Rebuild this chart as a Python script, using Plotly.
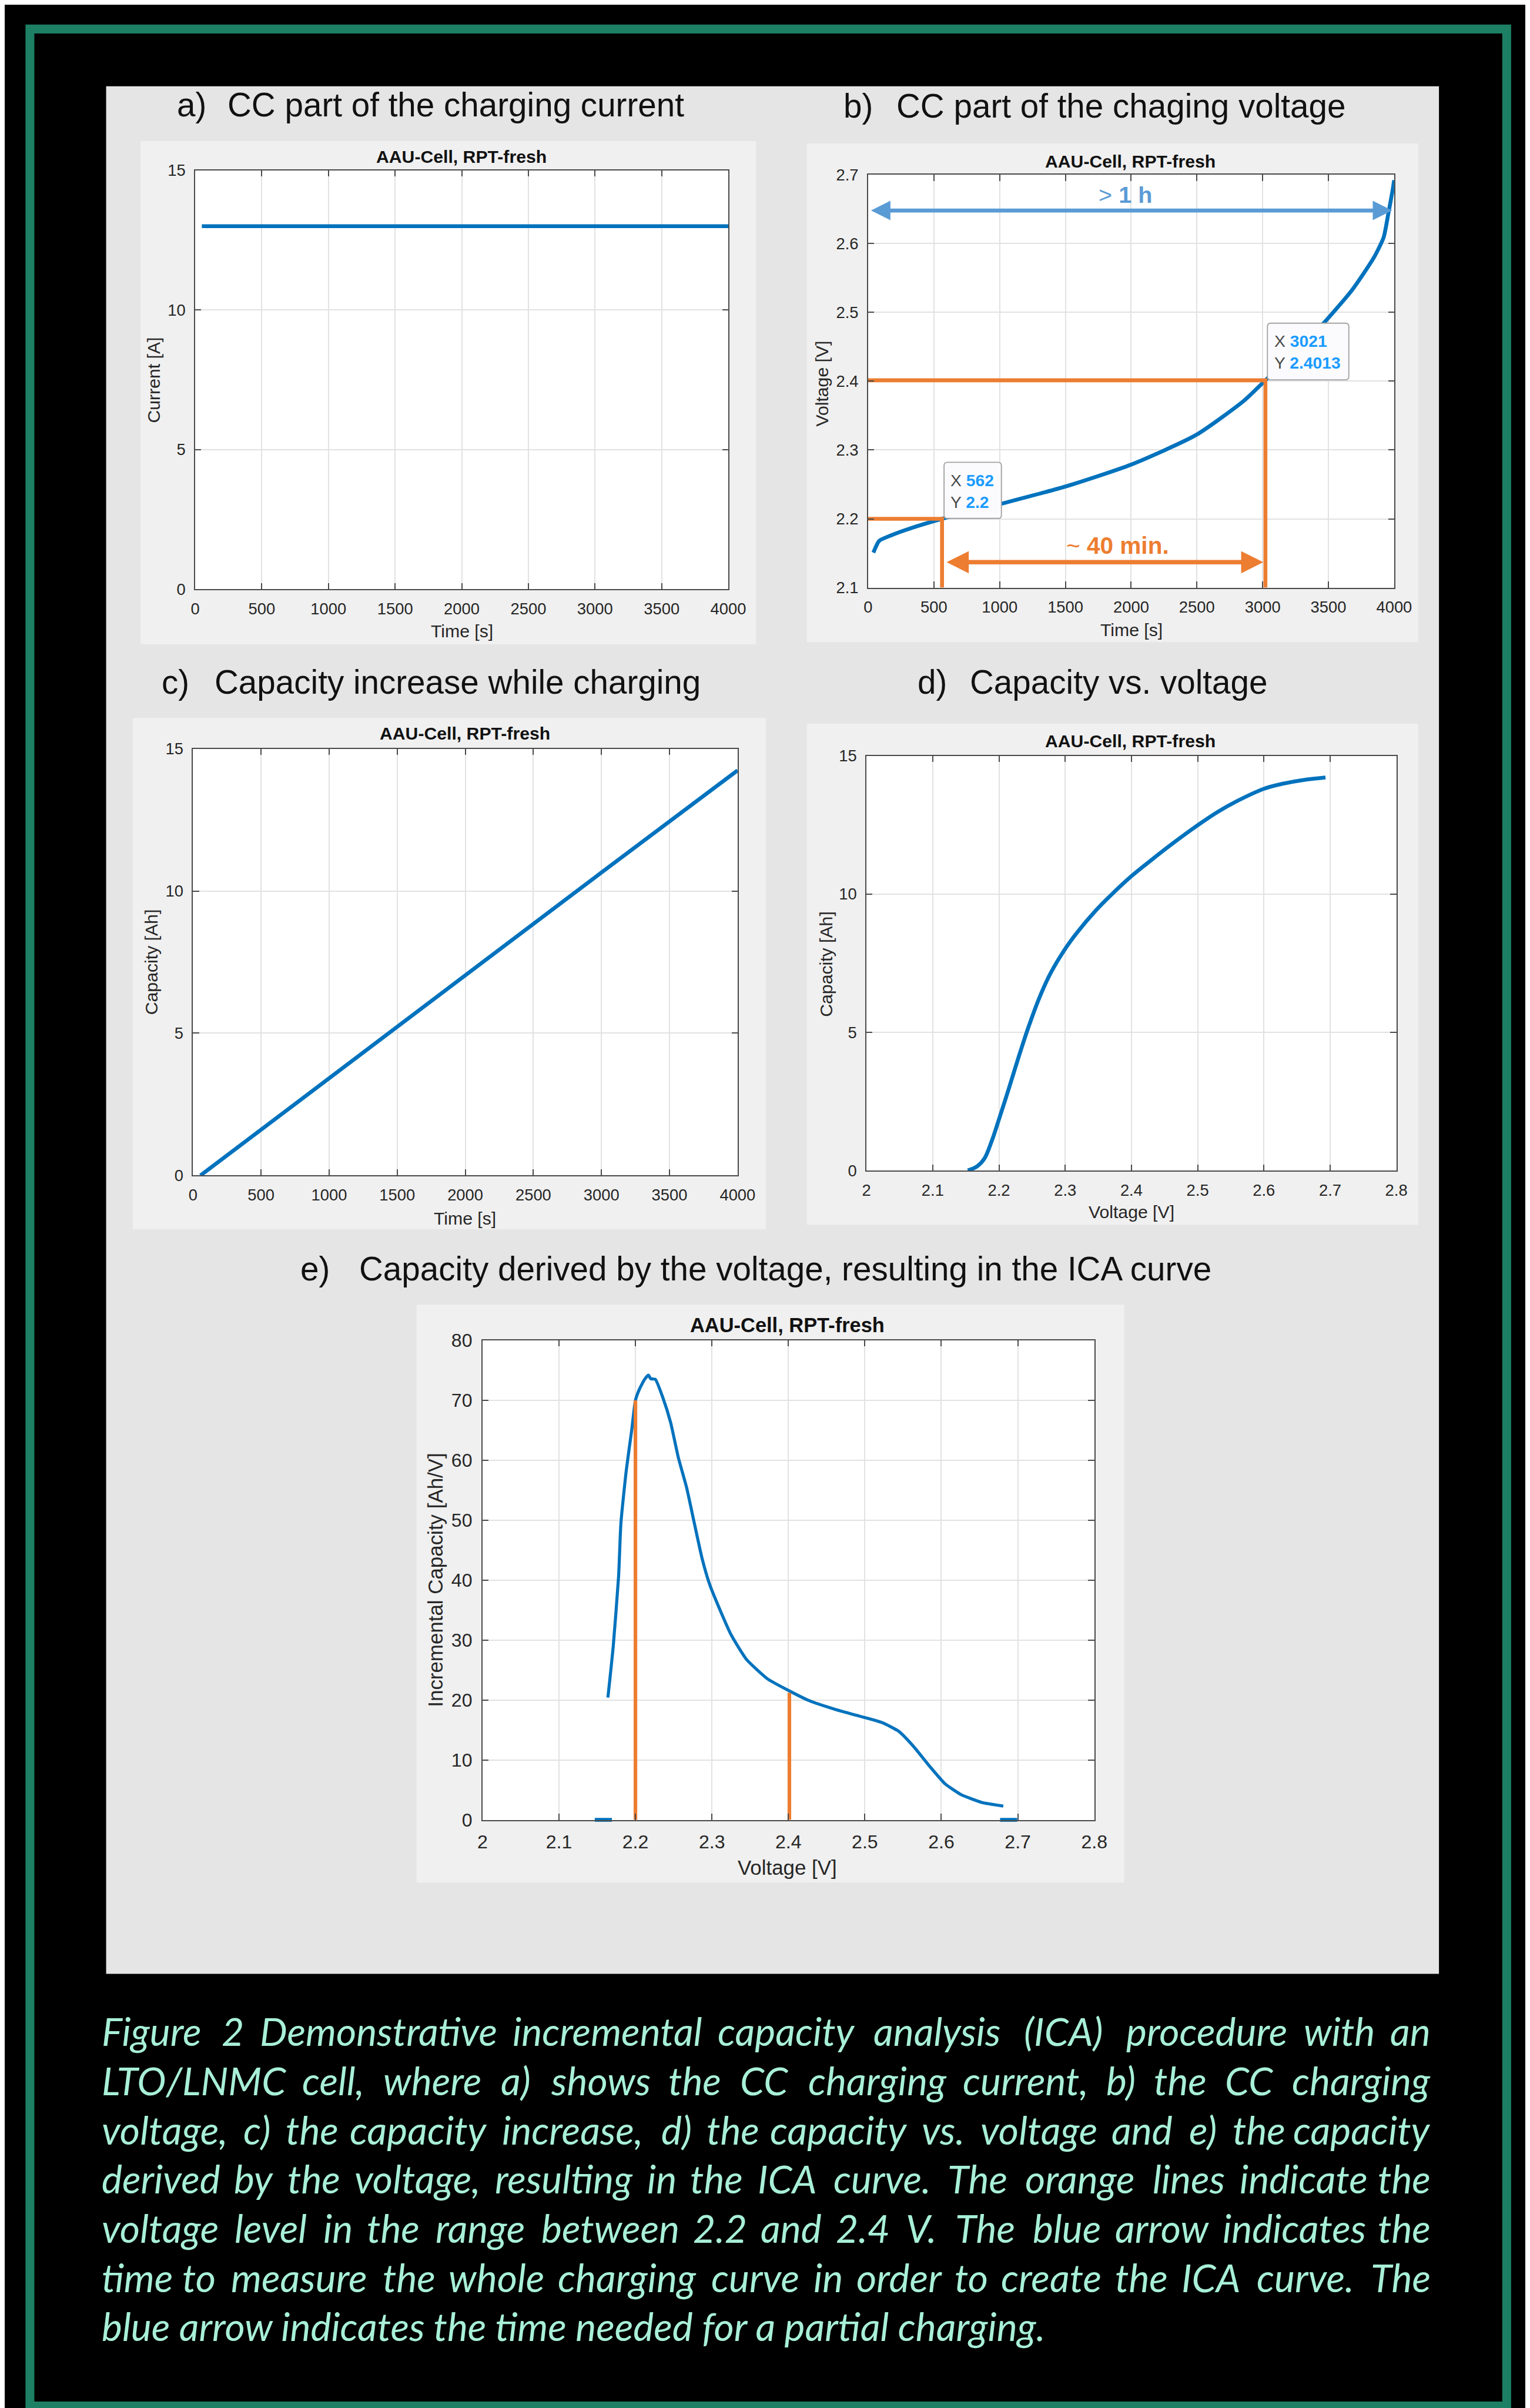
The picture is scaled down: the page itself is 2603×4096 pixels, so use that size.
import plotly.graph_objects as go

W, H = 2603, 4096
RW, RH = 2759, 4341
S = W / RW


def px(x):
    return x / RW


def py(y):
    return 1 - y / RH


BLUE = '#0072BD'
ORANGE = '#ED7D31'
LBLUE = '#5B9BD5'
TIPBLUE = '#1a9bff'
FONT = 'Liberation Sans, Arial, sans-serif'
CAPFONT = 'Lato, Noto Sans, sans-serif'
TXT = '#262626'

# ---------------- data ----------------
a_time = [50, 1000, 2000, 3000, 4000]
a_current = [13.0, 13.0, 13.0, 13.0, 13.0]

b_time = [40, 84, 175, 303, 562, 1034, 1501, 2002, 2495, 2860, 3021, 3226, 3481, 3682, 3847, 3920, 3956, 3985, 4000]
b_voltage = [2.151, 2.168, 2.176, 2.185, 2.200, 2.223, 2.247, 2.279, 2.322, 2.372, 2.4013, 2.438, 2.488, 2.533,
             2.580, 2.609, 2.644, 2.674, 2.692]
b_mark_time = [562, 3021]
b_mark_voltage = [2.2, 2.4013]
b_long_arrow_time = [15, 3985]
b_long_arrow_voltage = 2.648
b_short_arrow_time = [590, 3005]
b_short_arrow_voltage = 2.137

c_time = [55, 1000, 2000, 3000, 4000]
c_capacity = [0.0, 3.42, 7.05, 10.65, 14.24]

d_voltage = [2.153, 2.167, 2.178, 2.189, 2.200, 2.215, 2.229, 2.244, 2.261, 2.278, 2.300, 2.318, 2.346, 2.369,
             2.400, 2.431, 2.460, 2.500, 2.530, 2.559, 2.600, 2.630, 2.660, 2.693]
d_capacity = [0.00, 0.15, 0.43, 1.06, 1.85, 2.97, 4.05, 5.15, 6.25, 7.14, 8.02, 8.61, 9.40, 9.96,
              10.65, 11.25, 11.79, 12.49, 12.97, 13.36, 13.81, 14.00, 14.13, 14.22]

e_voltage = [2.164, 2.171, 2.178, 2.181, 2.188, 2.195, 2.200, 2.205, 2.212, 2.217, 2.220, 2.226, 2.236, 2.246,
             2.256, 2.267, 2.277, 2.287, 2.297, 2.311, 2.325, 2.345, 2.373, 2.400, 2.427, 2.462, 2.499, 2.523,
             2.544, 2.564, 2.585, 2.605, 2.626, 2.653, 2.681]
e_ic = [20.4, 29.0, 40.7, 49.5, 58.3, 64.9, 70.0, 71.8, 73.5, 74.2, 73.6, 73.5, 70.4, 66.3, 60.5, 55.4, 49.5,
        43.7, 39.3, 34.9, 30.9, 26.8, 23.5, 21.6, 19.9, 18.4, 17.1, 16.2, 14.8, 12.2, 8.9, 6.0, 4.2, 2.9, 2.3]
e_mark_voltage = [2.2, 2.4013]
e_mark_ic = [70.0, 21.2]
e_zero_voltage = [2.158, 2.688]

time_ticks = [0, 500, 1000, 1500, 2000, 2500, 3000, 3500, 4000]
time_labels = ['0', '500', '1000', '1500', '2000', '2500', '3000', '3500', '4000']
amp_ticks = [0, 5, 10, 15]
amp_labels = ['0', '5', '10', '15']
vb_ticks = [2.1, 2.2, 2.3, 2.4, 2.5, 2.6, 2.7]
vb_labels = ['2.1', '2.2', '2.3', '2.4', '2.5', '2.6', '2.7']
v_ticks = [2.0, 2.1, 2.2, 2.3, 2.4, 2.5, 2.6, 2.7, 2.8]
v_labels = ['2', '2.1', '2.2', '2.3', '2.4', '2.5', '2.6', '2.7', '2.8']
ic_ticks = [0, 10, 20, 30, 40, 50, 60, 70, 80]
ic_labels = ['0', '10', '20', '30', '40', '50', '60', '70', '80']

panel_letters = ['a)', 'b)', 'c)', 'd)', 'e)']
panel_titles = ['CC part of the charging current', 'CC part of the chaging voltage',
                'Capacity increase while charging', 'Capacity vs. voltage',
                'Capacity derived by the voltage, resulting in the ICA curve']
subtitle = 'AAU-Cell, RPT-fresh'

caption_lines = [
    'Figure 2 Demonstrative incremental capacity analysis (ICA) procedure with an',
    'LTO/LNMC cell, where a) shows the CC charging current, b) the CC charging',
    'voltage, c) the capacity increase, d) the capacity vs. voltage and e) the capacity',
    'derived by the voltage, resulting in the ICA curve. The orange lines indicate the',
    'voltage level in the range between 2.2 and 2.4 V. The blue arrow indicates the',
    'time to measure the whole charging curve in order to create the ICA curve. The',
    'blue arrow indicates the time needed for a partial charging.',
]

# ---------------- layout geometry (reference pixels) ----------------
DOM = {
    1: ((339, 1315), (282, 1044)),
    2: ((1571, 2534), (290, 1041)),
    3: ((335, 1332), (1334, 2110)),
    4: ((1568, 2538), (1347, 2101)),
    5: ((865, 1985), (2410, 3282)),
}
INNER = [(239, 229, 1366, 1144), (1459, 233, 2578, 1140), (225, 1278, 1384, 2208),
         (1459, 1288, 2578, 2200), (744, 2345, 2040, 3396)]

fig = go.Figure()

LW = 7 * S

fig.add_trace(go.Scatter(x=a_time, y=a_current, mode='lines', line=dict(color=BLUE, width=LW),
                         xaxis='x', yaxis='y'))

fig.add_trace(go.Scatter(x=b_time, y=b_voltage, mode='lines', line=dict(color=BLUE, width=LW, shape='spline',
                                                                         smoothing=0.6),
                         xaxis='x2', yaxis='y2'))
for t, v in zip(b_mark_time, b_mark_voltage):
    fig.add_trace(go.Scatter(x=[0, t, t], y=[v, v, 2.1], mode='lines', line=dict(color=ORANGE, width=LW),
                             xaxis='x2', yaxis='y2'))

fig.add_trace(go.Scatter(x=c_time, y=c_capacity, mode='lines', line=dict(color=BLUE, width=LW),
                         xaxis='x3', yaxis='y3'))

fig.add_trace(go.Scatter(x=d_voltage, y=d_capacity, mode='lines', line=dict(color=BLUE, width=LW, shape='spline',
                                                                            smoothing=1.0),
                         xaxis='x4', yaxis='y4'))

fig.add_trace(go.Scatter(x=e_voltage, y=e_ic, mode='lines', line=dict(color=BLUE, width=5.5 * S, shape='spline',
                                                                      smoothing=0.5),
                         xaxis='x5', yaxis='y5'))
for v, ic in zip(e_mark_voltage, e_mark_ic):
    fig.add_trace(go.Scatter(x=[v, v], y=[0, ic], mode='lines', line=dict(color=ORANGE, width=6.5 * S),
                             xaxis='x5', yaxis='y5'))
fig.add_trace(go.Scatter(x=e_zero_voltage, y=[0, 0], mode='markers', cliponaxis=False,
                         marker=dict(symbol='line-ew-open', size=22 * S, color=BLUE,
                                     line=dict(color=BLUE, width=7 * S)),
                         xaxis='x5', yaxis='y5'))


def axis(domain, rng, vals, labels, fs, anchor, standoff):
    return dict(domain=domain, range=rng, tickvals=vals, ticktext=labels, showgrid=True, gridcolor='#e2e2e2',
                gridwidth=2 * S, showline=True, linecolor='#4a4a4a', linewidth=2 * S, mirror='ticks',
                ticks='inside', ticklen=11 * S, tickwidth=2 * S, tickcolor='#4a4a4a',
                tickfont=dict(family=FONT, size=fs, color=TXT), zeroline=False, fixedrange=True,
                anchor=anchor, ticklabelstandoff=int(round(standoff)))


specs = {
    1: ([0, 4000], time_ticks, time_labels, [0, 15], amp_ticks, amp_labels, 29),
    2: ([0, 4000], time_ticks, time_labels, [2.1, 2.7], vb_ticks, vb_labels, 29),
    3: ([0, 4000], time_ticks, time_labels, [0, 15], amp_ticks, amp_labels, 29),
    4: ([2.0, 2.8], v_ticks, v_labels, [0, 15], amp_ticks, amp_labels, 29),
    5: ([2.0, 2.8], v_ticks, v_labels, [0, 80], ic_ticks, ic_labels, 34),
}
lay = {}
for k, (xr, xv, xl, yr, yv, yl, fs) in specs.items():
    (x0, x1), (y0, y1) = DOM[k]
    sfx = '' if k == 1 else str(k)
    lay['xaxis' + sfx] = axis([px(x0), px(x1)], xr, xv, xl, fs * S, 'y' + sfx, 9 * S)
    lay['yaxis' + sfx] = axis([py(y1), py(y0)], yr, yv, yl, fs * S, 'x' + sfx, 10 * S)

# ---------------- shapes ----------------
shapes = []


def rect(x0, y0, x1, y1, fill=None, line=None, lw=0, layer='below'):
    d = dict(type='rect', xref='paper', yref='paper', x0=px(x0), x1=px(x1), y0=py(y0), y1=py(y1), layer=layer,
             line=dict(width=lw, color=line or 'rgba(0,0,0,0)'))
    if fill:
        d['fillcolor'] = fill
    return d


shapes.append(rect(176, 129, 2616, 3562, fill='#e5e5e5'))
for (x0, y0, x1, y1) in INNER:
    shapes.append(rect(x0, y0, x1, y1, fill='#f0f0f0'))
for k, ((x0, x1), (y0, y1)) in DOM.items():
    shapes.append(rect(x0, y0, x1, y1, fill='#ffffff'))
shapes.append(rect(36.5, 25, 2740, 4348, line='#1d7f64', lw=16 * S))


def round_box(x0, y0, x1, y1, r=6):
    p = (f'M{px(x0 + r)},{py(y0)} L{px(x1 - r)},{py(y0)} Q{px(x1)},{py(y0)} {px(x1)},{py(y0 + r)} '
         f'L{px(x1)},{py(y1 - r)} Q{px(x1)},{py(y1)} {px(x1 - r)},{py(y1)} L{px(x0 + r)},{py(y1)} '
         f'Q{px(x0)},{py(y1)} {px(x0)},{py(y1 - r)} L{px(x0)},{py(y0 + r)} Q{px(x0)},{py(y0)} {px(x0 + r)},{py(y0)} Z')
    return dict(type='path', path=p, xref='paper', yref='paper', layer='above', fillcolor='#fbfbfe',
                line=dict(color='#a3a3a3', width=2 * S))


shapes.append(round_box(1710, 813, 1815, 915))
shapes.append(round_box(2302, 560, 2451, 663))

# ---------------- annotations ----------------
anns = []


def ann(text, x, y, size, color=TXT, xanchor='center', yanchor='middle', family=FONT, angle=0):
    return dict(text=text, x=px(x), y=py(y), xref='paper', yref='paper', showarrow=False, xanchor=xanchor,
                yanchor=yanchor, font=dict(family=family, size=size * S, color=color), textangle=angle,
                borderpad=0)


TFS = 60
letter_pos = [(304, 163), (1525, 165), (277, 1213), (1660, 1213), (531, 2280)]
title_pos = [(397, 163), (1622, 165), (373, 1213), (1756, 1213), (638, 2280)]
for L, T, (lx, ly), (tx, ty) in zip(panel_letters, panel_titles, letter_pos, title_pos):
    anns.append(ann(L, lx, ly, TFS, color='#111111', xanchor='left'))
    anns.append(ann(T, tx, ty, TFS, color='#111111', xanchor='left'))

sub_pos = [(826, 257, 32), (2051, 266, 32), (833, 1306, 32), (2051, 1320, 32), (1423, 2382, 36.5)]
for (x, y, fs) in sub_pos:
    anns.append(ann('<b>' + subtitle + '</b>', x, y, fs, color='#111111'))

xt = [('Time [s]', 827, 1120, 32), ('Time [s]', 2053, 1118, 32), ('Time [s]', 833, 2188, 32),
      ('Voltage [V]', 2053, 2176, 32), ('Voltage [V]', 1423, 3369, 37)]
for (t, x, y, fs) in xt:
    anns.append(ann(t, x, y, fs))
yt = [('Current [A]', 263, 663, 32), ('Voltage [V]', 1487, 670, 32), ('Capacity [Ah]', 259, 1722, 32),
      ('Capacity [Ah]', 1494, 1725, 32), ('Incremental Capacity [Ah/V]', 779, 2846, 37)]
for (t, x, y, fs) in yt:
    anns.append(ann(t, x, y, fs, angle=-90))

# arrows in panel b
anns.append(dict(x=b_long_arrow_time[1], y=b_long_arrow_voltage, ax=b_long_arrow_time[0], ay=b_long_arrow_voltage,
                 xref='x2', yref='y2', axref='x2', ayref='y2', text='', showarrow=True, arrowhead=2,
                 startarrowhead=2, arrowside='end+start', arrowsize=1.0, startarrowsize=1.0, arrowwidth=7 * S,
                 arrowcolor=LBLUE, standoff=0, startstandoff=0))
anns.append(dict(x=b_short_arrow_time[1], y=b_short_arrow_voltage, ax=b_short_arrow_time[0],
                 ay=b_short_arrow_voltage, xref='x2', yref='y2', axref='x2', ayref='y2', text='', showarrow=True,
                 arrowhead=2, startarrowhead=2, arrowside='end+start', arrowsize=1.0, startarrowsize=1.0,
                 arrowwidth=8 * S, arrowcolor=ORANGE, standoff=0, startstandoff=0))
anns.append(ann('&gt; <b>1 h</b>', 2042, 326, 42, color=LBLUE))
anns.append(ann('~ <b>40 min.</b>', 2028, 964, 43, color=ORANGE))

# data tips
anns.append(dict(text=f"X <b><span style='color:{TIPBLUE}'>{b_mark_time[0]}</span></b><br>"
                      f"Y <b><span style='color:{TIPBLUE}'>{b_mark_voltage[0]:g}</span></b>",
                 x=px(1721), y=py(866), xref='paper', yref='paper', showarrow=False, xanchor='left',
                 yanchor='middle', align='left', font=dict(family=FONT, size=30 * S, color='#4a4a4a'),
                 borderpad=0))
anns.append(dict(text=f"X <b><span style='color:{TIPBLUE}'>{b_mark_time[1]}</span></b><br>"
                      f"Y <b><span style='color:{TIPBLUE}'>{b_mark_voltage[1]:g}</span></b>",
                 x=px(2314), y=py(612), xref='paper', yref='paper', showarrow=False, xanchor='left',
                 yanchor='middle', align='left', font=dict(family=FONT, size=30 * S, color='#4a4a4a'),
                 borderpad=0))

# caption (justified by word placement)
AW = {' ': 278, '(': 333, ')': 333, ',': 278, '-': 333, '.': 278, '/': 278, 'A': 667, 'C': 722, 'D': 722,
      'F': 611, 'I': 278, 'L': 556, 'M': 833, 'N': 722, 'O': 778, 'T': 611, 'V': 667,
      'a': 556, 'b': 556, 'c': 500, 'd': 556, 'e': 556, 'f': 278, 'g': 556, 'h': 556, 'i': 222, 'j': 222,
      'k': 500, 'l': 222, 'm': 833, 'n': 556, 'o': 556, 'p': 556, 'q': 556, 'r': 333, 's': 500, 't': 278,
      'u': 556, 'v': 500, 'w': 722, 'x': 500, 'y': 500, 'z': 500}
CAPF = 70
KCAL = 0.94
CX0, CX1 = 167, 2602
CAPCOL = '#a8f0d8'


def est(word):
    return sum(AW.get(ch, 556) for ch in word) / 1000.0 * CAPF * KCAL


for i, line in enumerate(caption_lines):
    y = 3666 + 89.5 * i
    if i == len(caption_lines) - 1:
        anns.append(ann('<i>' + line + '</i>', CX0, y, CAPF, color=CAPCOL, xanchor='left', family=CAPFONT))
        continue
    words = line.split(' ')
    ws = [est(w) for w in words]
    gap = (CX1 - CX0 - sum(ws)) / (len(words) - 1)
    xc = CX0
    for j, (w, wd) in enumerate(zip(words, ws)):
        if j == 0:
            xa, xx = 'left', CX0
        elif j == len(words) - 1:
            xa, xx = 'right', CX1
        else:
            xa, xx = 'center', xc + wd / 2
        anns.append(ann('<i>' + w + '</i>', xx, y, CAPF, color=CAPCOL, xanchor=xa, family=CAPFONT))
        xc += wd + gap

fig.update_layout(width=W, height=H, margin=dict(l=0, r=0, t=0, b=0), paper_bgcolor='#000000',
                  plot_bgcolor='#ffffff', showlegend=False, shapes=shapes, annotations=anns, **lay)

fig.write_html('out.html')
